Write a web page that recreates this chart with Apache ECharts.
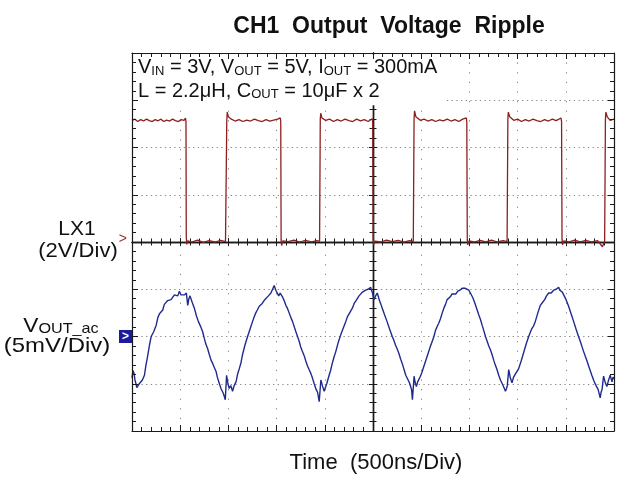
<!DOCTYPE html>
<html><head><meta charset="utf-8">
<script src="https://cdn.jsdelivr.net/npm/echarts@6/dist/echarts.min.js"></script>
<style>html,body{margin:0;padding:0;background:#fff}#c{width:621px;height:479px}</style>
</head><body><div id="c"></div>
<script>
// ---- text ----
const titleText = 'CH1  Output  Voltage  Ripple';
const xAxisName = 'Time  (500ns/Div)';
const annotLine1 = '{n|V}{s|IN}{n| = 3V, V}{s|OUT}{n| = 5V, I}{s|OUT}{n| = 300mA}';
const annotLine2 = '{n|L = 2.2μH, C}{s|OUT}{n| = 10μF x 2}';
const lxLabel = ['LX1', '(2V/Div)'];
const voutLabel = ['{n|V}{s|OUT_ac}', '(5mV/Div)'];

// ---- scales (ns, V, mV) ----
const timeRange = [0, 5000], timeStep = 500;     // 500 ns / div
const lxRange = [-8, 8], lxStep = 2;             // 2 V / div, ground at centre
const voutRange = [-10, 30], voutStep = 5;       // 5 mV / div, zero 2 div below centre

// ---- LX1 switching node [ns, V] ----
const lx1Points = [
 [0,5.15],[30,5.2],[60,5.1],[90,5.18],[120,5.12],[150,5.2],[180,5.14],[210,5.1],[240,5.18],[270,5.13],
 [300,5.2],[330,5.1],[360,5.16],[390,5.12],[420,5.2],[450,5.14],[480,5.1],[510,5.18],[540,5.15],[555,5.25],
 [560,5.1],[563,0.2],[568,-0.1],[580,0.05],[620,0.0],[680,0.08],[740,-0.02],[800,0.06],[860,0.0],[920,0.07],[970,0.02],
 [978,0.1],[983,5.1],[988,5.5],[1000,5.3],[1030,5.2],[1070,5.12],[1110,5.18],[1150,5.1],[1190,5.16],[1230,5.12],
 [1270,5.2],[1310,5.14],[1350,5.1],[1390,5.18],[1430,5.12],[1470,5.16],[1510,5.2],[1538,5.25],
 [1543,5.1],[1547,0.1],[1552,-0.15],[1565,0.05],[1620,0.02],[1680,0.08],[1740,0.0],[1800,0.07],[1860,0.01],[1920,0.06],[1946,0.03],
 [1949,0.1],[1953,5.2],[1958,5.45],[1970,5.25],[2010,5.15],[2050,5.2],[2090,5.1],[2130,5.18],[2170,5.12],[2210,5.2],
 [2250,5.14],[2290,5.1],[2330,5.2],[2370,5.13],[2410,5.18],[2450,5.1],[2490,5.22],
 [2497,5.1],[2502,0.1],[2507,-0.12],[2520,0.04],[2580,0.0],[2640,0.08],[2700,0.02],[2760,0.07],[2820,-0.01],[2880,0.06],[2918,0.02],
 [2921,0.1],[2926,5.2],[2931,5.55],[2945,5.3],[2990,5.15],[3030,5.2],[3070,5.12],[3110,5.18],[3150,5.1],[3190,5.17],
 [3230,5.13],[3270,5.2],[3310,5.12],[3350,5.18],[3390,5.1],[3430,5.2],[3468,5.25],
 [3473,5.1],[3478,0.1],[3483,-0.12],[3495,0.05],[3550,0.0],[3610,0.07],[3670,0.01],[3730,0.08],[3790,0.0],[3850,0.06],[3891,0.02],
 [3894,0.1],[3899,5.2],[3904,5.5],[3918,5.3],[3960,5.15],[4000,5.2],[4040,5.1],[4080,5.18],[4120,5.12],[4160,5.2],
 [4200,5.14],[4240,5.1],[4280,5.18],[4320,5.12],[4360,5.2],[4400,5.14],[4450,5.25],
 [4456,5.1],[4461,0.1],[4466,-0.12],[4478,0.05],[4530,0.0],[4590,0.08],[4650,0.01],[4710,0.07],[4770,0.0],[4830,0.06],[4880,-0.2],[4903,0.03],
 [4906,0.1],[4911,5.2],[4916,5.5],[4930,5.3],[4960,5.15],[5000,5.2]
];

// ---- VOUT ripple, AC coupled [ns, mV] ----
const voutPoints = [
 [0,-4.4],[10,-3.6],[21,-3.9],[31,-4.6],[41,-5.0],[50,-5.4],[60,-5.5],[75,-5.0],[88,-5.0],[108,-4.6],[129,-4.1],[145,-3.0],[160,-2.2],[180,-1.0],[199,0],[225,0.5],[251,1.2],[268,2.0],[285,2.4],[300,2.5],
 [319,2.8],[335,3.4],[352,3.5],[370,3.8],[388,3.9],[405,3.9],[424,4.1],[440,4.4],[458,4.4],[475,4.3],[492,4.8],[508,4.4],[523,4.5],[543,4.4],[564,4.6],[578,3.3],
 [590,4.0],[602,4.3],[625,3.6],[647,3.0],[668,2.2],[688,1.6],[710,1.1],[733,0.5],[750,-0.2],[766,-0.8],[785,-1.3],[802,-1.9],[820,-2.5],[839,-2.9],[855,-3.3],[872,-3.7],[885,-4.3],[895,-4.5],[910,-5.1],[923,-5.5],
 [935,-5.6],[947,-6.0],[958,-6.2],[968,-6.7],[981,-4.1],[995,-5.0],[1009,-5.5],[1025,-5.2],[1043,-5.8],[1060,-5.2],[1079,-4.8],[1095,-4.0],[1113,-3.4],[1130,-2.8],[1147,-1.9],[1172,-0.9],[1199,0],[1225,0.8],[1251,1.6],
 [1268,2.1],[1284,2.5],[1300,2.8],[1320,3.2],[1335,3.2],[1351,3.5],[1370,3.8],[1389,3.9],[1415,4.3],[1441,4.6],[1458,4.8],[1475,5.4],[1492,4.9],[1509,4.8],[1522,4.3],[1537,4.6],[1561,4.2],[1578,3.8],[1596,3.3],
 [1612,3.0],[1630,2.5],[1648,2.0],[1665,1.6],[1700,0.5],[1734,-0.5],[1750,-1.1],[1765,-1.5],[1785,-2.0],[1803,-2.6],[1820,-3.1],[1837,-3.5],[1855,-3.9],[1872,-4.4],[1890,-5.0],[1910,-5.6],[1925,-5.9],[1942,-6.9],[1959,-4.6],
 [1975,-5.2],[1993,-5.8],[2020,-5.0],[2045,-4.1],[2060,-3.6],[2076,-2.9],[2095,-2.2],[2114,-1.6],[2140,-0.6],[2166,0.2],[2192,0.9],[2218,1.6],[2235,2.1],[2252,2.4],[2270,2.6],[2286,3.0],[2305,3.5],[2324,3.8],[2340,4.0],[2355,4.3],
 [2372,4.4],[2391,4.7],[2408,4.6],[2424,4.9],[2436,4.8],[2448,5.0],[2462,4.9],[2476,5.2],[2485,4.9],[2495,4.6],[2510,3.9],[2527,4.3],[2544,4.6],[2556,4.2],[2567,3.8],[2582,3.4],[2596,3.0],[2620,2.3],[2645,1.6],
 [2672,0.8],[2700,0],[2716,-0.4],[2733,-0.9],[2750,-1.3],[2769,-1.8],[2787,-2.4],[2805,-2.9],[2822,-3.5],[2840,-4.1],[2852,-4.3],[2864,-4.6],[2878,-4.9],[2892,-5.1],[2900,-5.6],[2909,-6.7],[2926,-4.2],[2938,-4.9],[2950,-5.3],
 [2963,-4.8],[2976,-4.9],[2992,-4.2],[3007,-3.8],[3026,-3.2],[3046,-2.6],[3068,-1.9],[3090,-1.2],[3111,-0.6],[3132,0],[3147,0.6],[3163,1.0],[3182,1.4],[3201,1.9],[3218,2.5],[3235,3.0],[3252,3.4],[3269,3.9],[3285,4.0],[3302,4.2],
 [3320,4.5],[3339,4.6],[3360,4.5],[3380,4.8],[3402,4.9],[3424,5.1],[3440,5.0],[3458,5.1],[3476,5.0],[3494,4.9],[3510,4.6],[3525,4.5],[3536,4.1],[3546,3.9],[3558,3.5],[3571,3.1],[3584,2.7],[3597,2.3],[3615,1.8],[3632,1.2],
 [3650,0.6],[3667,0],[3684,-0.5],[3701,-1.0],[3718,-1.4],[3735,-1.9],[3752,-2.5],[3768,-3.0],[3786,-3.5],[3804,-4.1],[3822,-4.6],[3841,-5.0],[3858,-5.4],[3874,-5.8],[3885,-5.5],[3893,-5.2],[3908,-3.5],[3925,-4.4],[3942,-4.9],
 [3958,-4.3],[3975,-4.0],[3993,-3.8],[4011,-3.4],[4037,-2.6],[4063,-1.7],[4089,-0.8],[4115,0],[4130,0.4],[4146,0.8],[4165,1.1],[4184,1.6],[4210,2.5],[4236,3.3],[4258,3.6],[4281,3.9],[4300,4.3],[4322,4.6],[4348,4.6],[4374,4.9],
 [4400,5.0],[4426,5.2],[4438,4.9],[4451,4.9],[4464,4.7],[4477,4.6],[4503,3.9],[4529,3.2],[4555,2.4],[4581,1.6],[4606,0.8],[4632,0],[4650,-0.5],[4669,-1.1],[4685,-1.6],[4702,-2.1],[4720,-2.6],[4736,-3.1],[4753,-3.6],[4770,-4.1],
 [4792,-4.7],[4814,-5.2],[4835,-5.6],[4857,-6.5],[4866,-5.9],[4876,-5.6],[4892,-4.2],[4910,-4.9],[4926,-5.3],[4944,-4.6],[4961,-4.1],[4979,-4.8],[4990,-4.3],[5000,-4.5]
];

const FONT = 'Liberation Sans, Arial, Helvetica, sans-serif';
const INK = '#1a1a1a';
const G = { left: 132, top: 53, width: 482, height: 378 };

function xAx(o) {
  return Object.assign({
    type: 'value', gridIndex: 0, min: timeRange[0], max: timeRange[1], interval: timeStep,
    axisLine: { show: false, onZero: false }, axisTick: { show: false }, minorTick: { show: false },
    axisLabel: { show: false }, splitLine: { show: false }
  }, o);
}
function yAx(o) {
  return Object.assign({
    type: 'value', gridIndex: 0, min: lxRange[0], max: lxRange[1], interval: lxStep,
    axisLine: { show: false, onZero: false }, axisTick: { show: false }, minorTick: { show: false },
    axisLabel: { show: false }, splitLine: { show: false }
  }, o);
}
function frame(inside, len, mlen, width) {
  return {
    axisLine: { show: true, onZero: false, lineStyle: { color: INK, width: width } },
    axisTick: { show: true, inside: inside, length: len, lineStyle: { color: INK, width: 1 } },
    minorTick: { show: true, splitNumber: 5, length: mlen, lineStyle: { color: INK, width: 1 } }
  };
}
function label(x, y, text, size, sx, rich) {
  const st = { text: text, fontFamily: FONT, fontSize: size, fill: '#111', align: 'center', verticalAlign: 'middle',
               textAlign: 'center', textVerticalAlign: 'middle' };
  if (rich) st.rich = rich;
  return { type: 'text', x: x, y: y, z: 1, scaleX: sx, scaleY: 1, style: st };
}

const chart = echarts.init(document.getElementById('c'), null, { renderer: 'canvas' });
chart.setOption({
  animation: false,
  backgroundColor: '#fff',
  title: {
    text: titleText, left: 384, top: 10, textAlign: 'center',
    textStyle: { fontFamily: FONT, fontSize: 23, fontWeight: 'bold', color: '#111' }
  },
  grid: Object.assign({ outerBoundsMode: 'none', containLabel: false }, G),
  xAxis: [
    xAx({ position: 'bottom', z: 0, name: xAxisName, nameLocation: 'middle', nameGap: 21,
          nameTextStyle: { fontFamily: FONT, fontSize: 22, color: '#111', padding: [0, 0, 0, 6] },
          splitLine: { show: true, lineStyle: { color: '#888', width: 1, type: [1.3, 8.3] } } }),
    xAx(Object.assign({ position: 'top', z: 5 }, frame(true, 6, 4, 1.2))),
    xAx(Object.assign({ position: 'bottom', z: 5 }, frame(true, 6, 4, 1.2))),
    xAx(Object.assign({ position: 'bottom', offset: -G.height / 2, z: 0 }, frame(true, 4, 3.5, 1.4))),
    xAx(Object.assign({ position: 'bottom', offset: -G.height / 2, z: 0 }, frame(false, 4, 3.5, 1.4)))
  ],
  yAxis: [
    yAx({ position: 'left', z: 0,
          splitLine: { show: true, lineStyle: { color: '#888', width: 1, type: [1.3, 3.4] } },
          axisLabel: { show: true, margin: 5, formatter: v => v === 0 ? '{m|>}' : '',
                       rich: { m: { color: '#9a2f2f', fontSize: 14, fontFamily: FONT, padding: [0, 0, 6, 0] } } } }),
    yAx({ position: 'left', min: voutRange[0], max: voutRange[1], interval: voutStep, z: 6,
          axisLabel: { show: true, margin: 0, formatter: v => v === 0 ? '{b|>}' : '',
                       rich: { b: { backgroundColor: '#1b1b9e', color: '#fff', fontSize: 12, fontWeight: 'bold',
                                    fontFamily: FONT, width: 13, height: 13, lineHeight: 13, align: 'center' } } } }),
    yAx(Object.assign({ position: 'left', z: 5 }, frame(true, 6, 4, 1.2))),
    yAx(Object.assign({ position: 'right', z: 5 }, frame(true, 6, 4, 1.2))),
    yAx(Object.assign({ position: 'left', offset: -G.width / 2, z: 0 }, frame(true, 4, 3.5, 1.4))),
    yAx(Object.assign({ position: 'left', offset: -G.width / 2, z: 0 }, frame(false, 4, 3.5, 1.4)))
  ],
  series: [
    { type: 'line', name: 'LX1', xAxisIndex: 0, yAxisIndex: 0, data: lx1Points, symbol: 'none', showSymbol: false,
      z: 2, lineStyle: { color: '#8c1f1f', width: 1.3 }, silent: true },
    { type: 'line', name: 'VOUT_ac', xAxisIndex: 0, yAxisIndex: 1, data: voutPoints, symbol: 'none', showSymbol: false,
      z: 3, lineStyle: { color: '#1f2a8e', width: 1.4 }, silent: true }
  ],
  graphic: [
    { type: 'text', x: 137, y: 54.5, z: 1,
      style: { text: annotLine1 + '\n' + annotLine2, backgroundColor: '#fff', padding: [0, 8, 4, 1],
               align: 'left', verticalAlign: 'top', textAlign: 'left', textVerticalAlign: 'top',
               fontFamily: FONT, fontSize: 20, fill: '#111',
               rich: { n: { fontFamily: FONT, fontSize: 20, lineHeight: 23.4, verticalAlign: 'bottom', fill: '#111', color: '#111' },
                       s: { fontFamily: FONT, fontSize: 13, lineHeight: 23, verticalAlign: 'bottom', fill: '#111', color: '#111' } } } },
    label(77, 229, lxLabel[0], 21, 1.0),
    label(78, 251, lxLabel[1], 21, 1.05),
    label(61, 324, voutLabel[0], 21, 1.08,
          { n: { fontFamily: FONT, fontSize: 21, lineHeight: 25, verticalAlign: 'bottom', fill: '#111', color: '#111' },
            s: { fontFamily: FONT, fontSize: 15, lineHeight: 25, verticalAlign: 'bottom', fill: '#111', color: '#111' } }),
    label(57, 346, voutLabel[1], 21, 1.14)
  ]
});
</script></body></html>
